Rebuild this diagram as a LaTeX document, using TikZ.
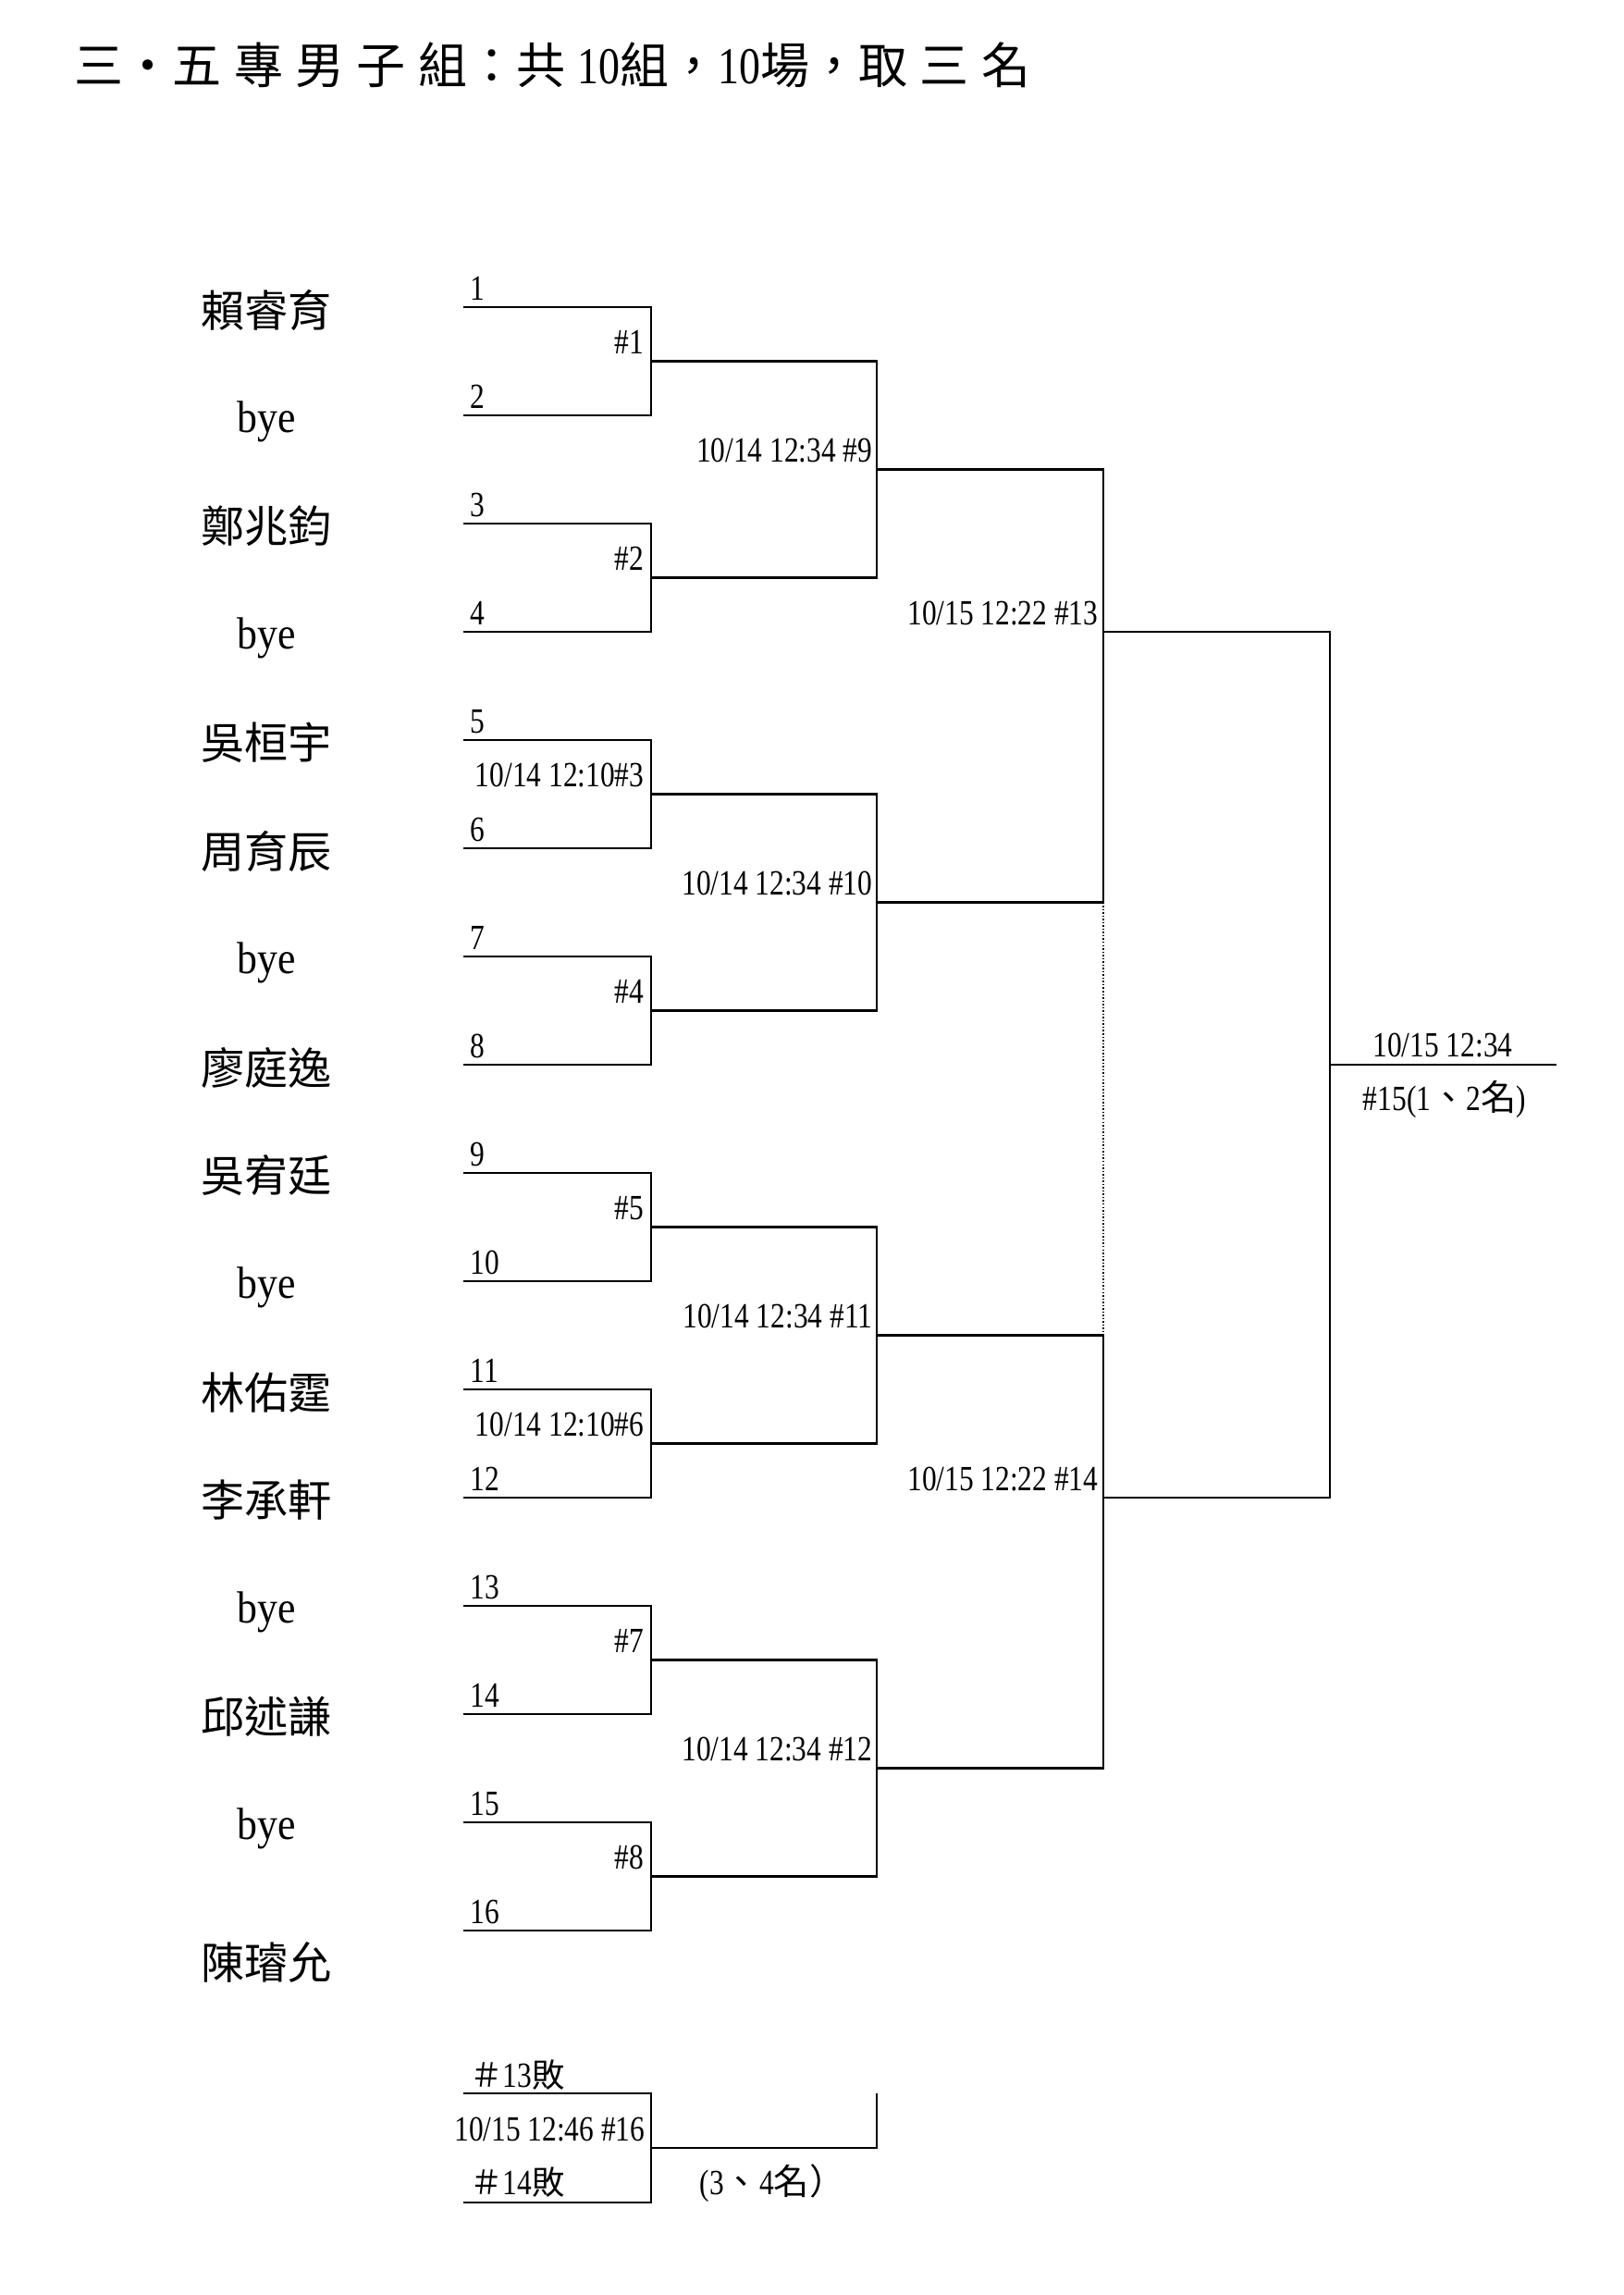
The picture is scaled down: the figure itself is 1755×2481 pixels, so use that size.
\documentclass[tikz,border=0pt]{standalone}
\usepackage{fontspec}
\setmainfont{Liberation Serif}
\newfontfamily\cjk{Noto Sans CJK TC}
\newfontfamily\cond[FakeStretch=0.82]{Liberation Serif}
\newfontfamily\byefont[FakeStretch=0.9]{Liberation Serif}
\newcommand\zh[1]{{\cjk #1}}
\newcommand\zs[1]{{\cjk\fontsize{12}{15}\selectfont #1}}
\newcommand\tk{\hspace{4.5pt}}
\newcommand\ten{{\cond\fontsize{19}{19}\selectfont 10}}
\begin{document}
\begin{tikzpicture}[x=0.3392pt,y=-0.3392pt,
  line/.style={line width=0.75pt},
  dotline/.style={line width=0.5pt, dash pattern=on 0.5pt off 0.7pt},
  num/.style={font=\cond\fontsize{13}{15}\selectfont, anchor=base west, inner sep=0pt},
  lab/.style={font=\cond\fontsize{13}{15}\selectfont, anchor=base east, inner sep=0pt},
  ctr/.style={font=\cond\fontsize{13}{15}\selectfont, anchor=base, inner sep=0pt},
  pname/.style={font=\cjk\fontsize{16}{16}\selectfont, inner sep=0pt},
  byename/.style={font=\byefont\fontsize{16.5}{16.5}\selectfont, inner sep=0pt},
  ttl/.style={font=\cjk\fontsize{18}{18}\selectfont, anchor=west, inner sep=0pt}]

\useasboundingbox (0,0) rectangle (1755,2481);

\node[ttl] (title) at (80,70) {三·五\tk{}專\tk{}男\tk{}子\tk{}組：共\tk{}\ten{}組，\ten{}場，取\tk{}三\tk{}名};

% player names
\node[pname]   (p1)  at (288,335)  {賴睿育};
\node[byename] (p2)  at (288,456)  {bye};
\node[pname]   (p3)  at (288,569)  {鄭兆鈞};
\node[byename] (p4)  at (288,690)  {bye};
\node[pname]   (p5)  at (288,803)  {吳桓宇};
\node[pname]   (p6)  at (288,920)  {周育辰};
\node[byename] (p7)  at (288,1041) {bye};
\node[pname]   (p8)  at (288,1154) {廖庭逸};
\node[pname]   (p9)  at (288,1271) {吳宥廷};
\node[byename] (p10) at (288,1392) {bye};
\node[pname]   (p11) at (288,1505) {林佑霆};
\node[pname]   (p12) at (288,1622) {李承軒};
\node[byename] (p13) at (288,1743) {bye};
\node[pname]   (p14) at (288,1856) {邱述謙};
\node[byename] (p15) at (288,1977) {bye};
\node[pname]   (p16) at (288,2121) {陳璿允};

% first-round lines and numbers
\foreach \k in {1,...,16}{
  \pgfmathsetmacro\yy{332+117*(\k-1)}
  \coordinate (a\k) at (501,\yy);
  \coordinate (b\k) at (704,\yy);
  \node[num] (lbl\k) at (508,\yy-8) {\k};
}
\foreach \i in {1,...,8}{
  \pgfmathtruncatemacro\t{2*\i-1}
  \pgfmathtruncatemacro\u{2*\i}
  \pgfmathsetmacro\my{332+117*(2*\i-2)+58.5}
  \draw[line] (a\t) -- (b\t) -- (b\u) -- (a\u);
  \coordinate (m\i) at (704,\my);
  \coordinate (mo\i) at (948,\my);
}
\foreach \j in {1,...,4}{
  \pgfmathtruncatemacro\t{2*\j-1}
  \pgfmathtruncatemacro\u{2*\j}
  \pgfmathsetmacro\ny{332+117*(4*\j-4)+175.5}
  \draw[line] (m\t) -- (mo\t) -- (mo\u) -- (m\u);
  \coordinate (n\j) at (948,\ny);
  \coordinate (no\j) at (1193,\ny);
}
% third round
\draw[line] (n1) -- (no1) -- (no2) -- (n2);
\draw[dotline] (no2) -- (no3);
\draw[line] (n3) -- (no3) -- (no4) -- (n4);
\coordinate (s1) at (1193,683);
\coordinate (so1) at (1438,683);
\coordinate (s2) at (1193,1619);
\coordinate (so2) at (1438,1619);
\draw[line] (s1) -- (so1) -- (so2) -- (s2);
% final
\coordinate (f) at (1438,1151);
\coordinate (fo) at (1683,1151);
\draw[line] (f) -- (fo);

% match labels
\node[lab] (g1) at (697,382.5)  {\#1};
\node[lab] (g2) at (697,616.5)  {\#2};
\node[lab] (g3) at (697,850.5)  {10/14 12:10\#3};
\node[lab] (g4) at (697,1084.5) {\#4};
\node[lab] (g5) at (697,1318.5) {\#5};
\node[lab] (g6) at (697,1552.5) {10/14 12:10\#6};
\node[lab] (g7) at (697,1786.5) {\#7};
\node[lab] (g8) at (697,2020.5) {\#8};
\node[lab] (g9)  at (944,499.5)  {10/14 12:34 \#9};
\node[lab] (g10) at (944,967.5)  {10/14 12:34 \#10};
\node[lab] (g11) at (944,1435.5) {10/14 12:34 \#11};
\node[lab] (g12) at (944,1903.5) {10/14 12:34 \#12};
\node[lab] (g13) at (1188,675)  {10/15 12:22 \#13};
\node[lab] (g14) at (1188,1611) {10/15 12:22 \#14};
\node[ctr] (g15a) at (1560,1142) {10/15 12:34};
\node[ctr] (g15b) at (1562,1200) {\#15(1\zh{、}2\zh{名})};

% third-place match
\coordinate (c1) at (501,2263);
\coordinate (d1) at (704,2263);
\coordinate (c2) at (501,2381);
\coordinate (d2) at (704,2381);
\coordinate (r) at (704,2322);
\coordinate (ro) at (948,2322);
\coordinate (rt) at (948,2263);
\draw[line] (c1) -- (d1) -- (d2) -- (c2);
\draw[line] (r) -- (ro) -- (rt);
\node[num] (h13) at (508,2256) {\zs{＃}13\zs{敗}};
\node[num] (h14) at (508,2372) {\zs{＃}14\zs{敗}};
\node[lab] (g16) at (698,2314) {10/15 12:46 \#16};
\node[num] (pl34) at (756,2372) {(3\zh{、}4\zh{名）}};
\end{tikzpicture}
\end{document}
